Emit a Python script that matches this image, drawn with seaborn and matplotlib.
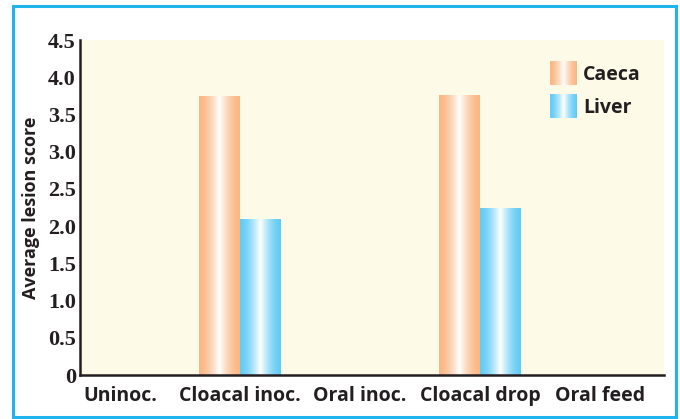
import numpy as np
import pandas as pd
import matplotlib
matplotlib.use("Agg")
import matplotlib.pyplot as plt
import matplotlib.colors as mcolors
from matplotlib.patches import Rectangle
from matplotlib.legend_handler import HandlerBase
import seaborn as sns

# ---- data ----
groups = ["Uninoc.", "Cloacal inoc.", "Oral inoc.", "Cloacal drop", "Oral feed"]
caeca = [0.0, 3.75, 0.0, 3.76, 0.0]
liver = [0.0, 2.09, 0.0, 2.24, 0.0]
series = ["Caeca", "Liver"]
yticks = [0, 0.5, 1.0, 1.5, 2.0, 2.5, 3.0, 3.5, 4.0, 4.5]
ytick_labels = ["0", "0.5", "1.0", "1.5", "2.0", "2.5", "3.0", "3.5", "4.0", "4.5"]
edge_colors = {"Caeca": "#FBB783", "Liver": "#62CCF5"}

df = pd.DataFrame({
    "group": groups * 2,
    "score": caeca + liver,
    "tissue": ["Caeca"] * len(groups) + ["Liver"] * len(groups),
})

sns.set_theme(style="white")
plt.rcParams["font.family"] = ["Open Sans", "DejaVu Sans"]

fig = plt.figure(figsize=(6.8, 4.19), dpi=100)
W, H = 680, 419
ax = fig.add_axes([80 / W, 1 - 375 / H, (664 - 80) / W, (375 - 40) / H])
ax.set_facecolor("#FEFAE8")

sns.barplot(data=df, x="group", y="score", hue="tissue", order=groups,
            hue_order=series, palette=edge_colors, width=0.68, ax=ax,
            legend=False, saturation=1, errorbar=None)


def gradient_colors(base, n=64):
    c = np.array(mcolors.to_rgb(base))
    t = np.linspace(0, 1, n)
    w = (1 - np.abs(2 * t - 1)) ** 1.6
    return c[None, :] * (1 - w[:, None]) + np.ones(3)[None, :] * w[:, None]


# replace flat fills with cylinder-like gradients
for container, name in zip(ax.containers, series):
    grad = gradient_colors(edge_colors[name])[None, :, :]
    for patch in container.patches:
        h = patch.get_height()
        if h <= 0:
            patch.set_visible(False)
            continue
        x0, w = patch.get_x(), patch.get_width()
        im = ax.imshow(grad, extent=[x0, x0 + w, 0, h], aspect="auto",
                       interpolation="bilinear", zorder=2)
        im.set_clip_path(patch)
        patch.set_facecolor("none")
        patch.set_edgecolor("none")

ax.set_xlim(-1 / 3, 4 + 64 / 120)
ax.set_ylim(0, 4.5)
ax.set_yticks(yticks)
ax.set_yticklabels(ytick_labels, fontfamily="Liberation Serif",
                   fontweight="bold", fontsize=16, color="#231F20")
ax.set_xticks(range(len(groups)))
ax.set_xticklabels(groups, fontweight="bold", fontsize=14, color="#231F20")
ax.tick_params(axis="y", length=0, pad=3)
ax.tick_params(axis="x", length=0, pad=8)
ax.set_xlabel("")
ax.set_ylabel("Average lesion score", fontweight="bold", fontsize=13,
              color="#231F20", labelpad=6)

for s in ["top", "right"]:
    ax.spines[s].set_visible(False)
for s in ["left", "bottom"]:
    ax.spines[s].set_color("#231F20")
    ax.spines[s].set_linewidth(1.8)
    ax.spines[s].set_zorder(5)


class GradHandler(HandlerBase):
    def __init__(self, base):
        super().__init__()
        self.base = base

    def create_artists(self, legend, orig_handle, xdescent, ydescent,
                       width, height, fontsize, trans):
        cols = gradient_colors(self.base, 40)
        n = len(cols)
        arts = []
        for i, c in enumerate(cols):
            r = Rectangle((-xdescent + width * i / n, -ydescent), width / n * 1.05,
                          height, facecolor=c, edgecolor="none", transform=trans)
            arts.append(r)
        return arts


handles = [Rectangle((0, 0), 1, 1) for _ in series]
leg = ax.legend(handles, series, loc="upper left", frameon=False,
                handler_map={h: GradHandler(edge_colors[n]) for h, n in zip(handles, series)},
                handlelength=1.4, handleheight=1.55, labelspacing=0.45,
                handletextpad=0.3, borderaxespad=0.0, borderpad=0.0,
                bbox_to_anchor=((550 - 80) / 584, (375 - 61) / 335),
                prop={"family": "Open Sans", "weight": "bold", "size": 14})
for t in leg.get_texts():
    t.set_color("#231F20")

# figure border
fig.patches.append(Rectangle((13 / W, 2 / H), (676 - 13) / W, (413 - 2) / H,
                             transform=fig.transFigure, fill=False,
                             edgecolor="#1FB4EE", linewidth=2.2))

fig.savefig("out.png", dpi=100, facecolor="white")
